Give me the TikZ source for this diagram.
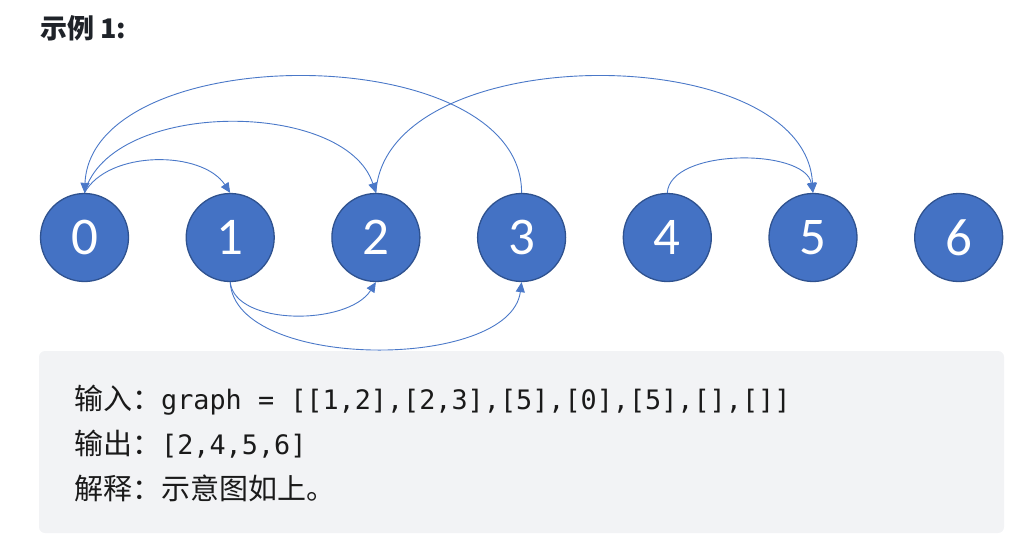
\documentclass[tikz,border=0pt]{standalone}
\usepackage{fontspec}
\usetikzlibrary{arrows.meta}
\newfontfamily\cjk{Noto Sans CJK SC}
\newfontfamily\numfont{Carlito}
\newfontfamily\codefont{DejaVu Sans Mono}
\definecolor{nodeblue}{HTML}{4472C4}
\definecolor{nodeedge}{HTML}{2F528F}
\definecolor{linkblue}{HTML}{4A78C8}
\definecolor{panel}{HTML}{F2F3F5}
\definecolor{heading}{HTML}{1F2329}
\definecolor{bodytext}{HTML}{1A1A1A}

\begin{document}
\begin{tikzpicture}[x=1pt,y=-1pt,
  vertex/.style={circle, fill=nodeblue, draw=nodeedge, line width=1.3pt,
    minimum size=88pt, inner sep=0pt, text=white,
    font=\numfont\fontsize{53}{53}\selectfont},
  link/.style={draw=linkblue, line width=0.9pt,
    -{Triangle[length=10pt,width=9pt]}},
  textline/.style={anchor=base west, inner sep=0pt, text=bodytext,
    font=\cjk\fontsize{29}{29}\selectfont}]
\useasboundingbox (0,0) rectangle (1034,552);

% heading
\node[anchor=base west, inner sep=0pt, text=heading,
  font=\cjk\bfseries\fontsize{27}{27}\selectfont] (title) at (40,38) {示例 1:};

% vertices
\foreach \i in {0,...,6} {
  \node[vertex] (n\i) at ({84.5+145.7*\i},237.5) {\raisebox{-2pt}{\i}};
}

% edges above the row
\draw[link] (n0.north) .. controls (108,150) and (202,150) .. (n1.north);
\draw[link] (n0.north) .. controls (110,99) and (345,99) .. (n2.north);
\draw[link] (n3.north) .. controls (522,38) and (92,38) .. (n0.north);
\draw[link] (n2.north) .. controls (385,38) and (805,38) .. (n5.north);
\draw[link] (n4.north) .. controls (670,148) and (805,148) .. (n5.north);

% edges below the row
\draw[link] (n1.south) .. controls (235,326) and (348,326) .. (n2.south);
\draw[link] (n1.south) .. controls (235,371) and (510,371) .. (n3.south);

% explanation panel
\fill[panel, rounded corners=6pt] (39,351) rectangle (1004,533);
\node[textline] (l1) at (74,409)
  {输入：\codefont\fontsize{26.8}{26.8}\selectfont graph = [[1,2],[2,3],[5],[0],[5],[],[]]};
\node[textline] (l2) at (74,454)
  {输出：\codefont\fontsize{26.8}{26.8}\selectfont [2,4,5,6]};
\node[textline] (l3) at (74,499) {解释：示意图如上。};
\end{tikzpicture}
\end{document}
